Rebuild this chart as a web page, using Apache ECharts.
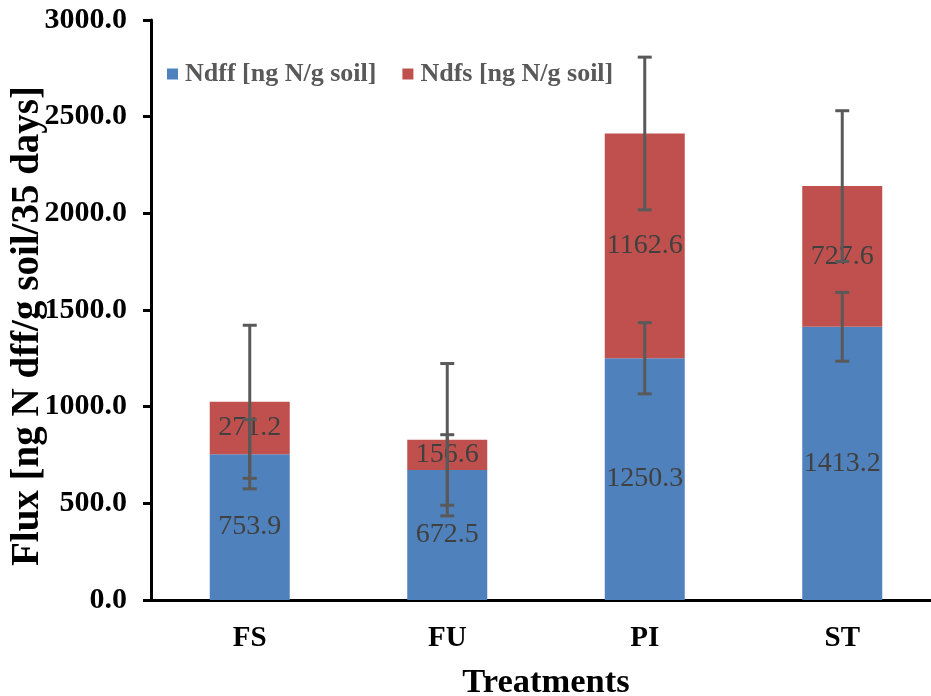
<!DOCTYPE html>
<html>
<head>
<meta charset="utf-8">
<script src="https://cdn.jsdelivr.net/npm/echarts@6/dist/echarts.min.js"></script>
<style>
html,body{margin:0;padding:0;background:#fff;}
#chart{width:931px;height:696px;}
</style>
</head>
<body>
<div id="chart"></div>
<script>
var categories = ['FS', 'FU', 'PI', 'ST'];
var ndff = [753.9, 672.5, 1250.3, 1413.2];
var ndfs = [271.2, 156.6, 1162.6, 727.6];
var ndffErr = [179, 182.5, 184, 178];
var ndfsErr = [396, 394, 395, 390];
var yTicks = [0, 500, 1000, 1500, 2000, 2500, 3000];

var FONT = '"Liberation Serif", "Times New Roman", serif';

var chart = echarts.init(document.getElementById('chart'), null, {renderer: 'canvas'});

var ndffErrData = categories.map(function (c, i) { return [i, ndff[i], ndffErr[i]]; });
var ndfsErrData = categories.map(function (c, i) { return [i, ndff[i] + ndfs[i], ndfsErr[i]]; });

function errRender(params, api) {
  var x = api.value(0), c = api.value(1), e = api.value(2);
  var lo = api.coord([x, c - e]);
  var hi = api.coord([x, c + e]);
  var hw = 7;
  var st = {stroke: '#595959', lineWidth: 3};
  return {
    type: 'group',
    children: [
      {type: 'line', shape: {x1: lo[0], y1: lo[1], x2: hi[0], y2: hi[1]}, style: st},
      {type: 'line', shape: {x1: lo[0] - hw, y1: lo[1], x2: lo[0] + hw, y2: lo[1]}, style: st},
      {type: 'line', shape: {x1: hi[0] - hw, y1: hi[1], x2: hi[0] + hw, y2: hi[1]}, style: st}
    ]
  };
}

var labelStyle = {
  show: true,
  position: 'inside',
  color: '#404040',
  fontFamily: FONT,
  fontSize: 28,
  formatter: function (p) { return Number(p.value).toFixed(1); }
};

chart.setOption({
  animation: false,
  backgroundColor: '#fff',
  grid: {left: 151, top: 20, width: 790, height: 580, containLabel: false, outerBoundsMode: 'none'},
  legend: {
    data: ['Ndff [ng N/g soil]', 'Ndfs [ng N/g soil]'],
    left: 167,
    top: 61,
    padding: 0,
    icon: 'rect',
    itemWidth: 11,
    itemHeight: 11,
    itemGap: 26,
    textStyle: {fontFamily: FONT, fontSize: 26, fontWeight: 'bold', color: '#595959', padding: [0, 0, 0, 2]}
  },
  xAxis: {
    type: 'category',
    data: categories,
    name: 'Treatments',
    nameLocation: 'middle',
    nameGap: 66,
    nameMoveOverlap: false,
    nameTextStyle: {fontFamily: FONT, fontSize: 34.5, fontWeight: 'bold', color: '#000'},
    axisLine: {lineStyle: {color: '#000', width: 3}},
    axisTick: {show: false},
    axisLabel: {fontFamily: FONT, fontSize: 29, fontWeight: 'bold', color: '#000', margin: 24}
  },
  yAxis: {
    type: 'value',
    min: 0,
    max: 3000,
    interval: 500,
    name: 'Flux [ng N dff/g soil/35 days]',
    nameLocation: 'middle',
    nameGap: 104,
    nameMoveOverlap: false,
    nameTextStyle: {fontFamily: FONT, fontSize: 39, fontWeight: 'bold', color: '#000', padding: [0, 32, 0, 0]},
    axisLine: {show: true, lineStyle: {color: '#000', width: 3}},
    axisTick: {show: true, inside: false, length: 8, lineStyle: {color: '#000', width: 3}},
    splitLine: {show: false},
    axisLabel: {
      fontFamily: FONT, fontSize: 30, fontWeight: 'bold', color: '#000', margin: 24,
      formatter: function (v) { return yTicks.indexOf(v) >= 0 ? v.toFixed(1) : ''; }
    }
  },
  series: [
    {
      name: 'Ndff [ng N/g soil]',
      type: 'bar',
      stack: 'total',
      barWidth: 80,
      data: ndff,
      itemStyle: {color: '#4F81BD'},
      label: labelStyle,
      z: 2
    },
    {
      name: 'Ndfs [ng N/g soil]',
      type: 'bar',
      stack: 'total',
      barWidth: 80,
      data: ndfs,
      itemStyle: {color: '#C0504D'},
      label: labelStyle,
      z: 2
    },
    {
      name: 'errNdff',
      type: 'custom',
      renderItem: errRender,
      data: ndffErrData,
      encode: {x: 0, y: 1},
      z: 5
    },
    {
      name: 'errNdfs',
      type: 'custom',
      renderItem: errRender,
      data: ndfsErrData,
      encode: {x: 0, y: 1},
      z: 5
    }
  ]
});
</script>
</body>
</html>
